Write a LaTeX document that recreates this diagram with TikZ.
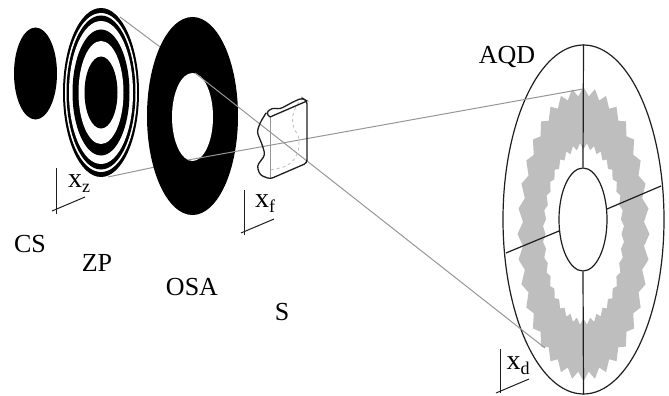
\documentclass[tikz,border=0pt]{standalone}
\usepackage{fontspec}
\setmainfont{Liberation Serif}
\usetikzlibrary{positioning,shapes.geometric}
\definecolor{lgray}{RGB}{190,190,190}
\definecolor{mgray}{RGB}{150,150,150}
\definecolor{dgray}{RGB}{30,30,30}
\newcommand{\axsub}[1]{\raisebox{-5pt}{\fontsize{18}{18}\selectfont #1}}
\tikzset{
  disc/.style={ellipse, draw=none, fill=black, inner sep=0pt},
  gap/.style={ellipse, draw=none, fill=white, inner sep=0pt},
  det/.style={ellipse, draw=dgray, line width=1.2pt, inner sep=0pt},
  ray/.style={mgray, line width=1pt},
  axis/.style={dgray, line width=1pt},
  sect/.style={dgray, line width=1.2pt},
  edge/.style={dgray, line width=1.3pt},
  lbl/.style={font=\fontsize{26}{26}\selectfont, inner sep=0pt},
  axl/.style={font=\fontsize{28}{28}\selectfont, inner sep=0pt}
}
\begin{document}
\begin{tikzpicture}[x=1pt,y=-1pt]
  \useasboundingbox (0,0) rectangle (669,396);
  % condenser stop
  \node[disc, minimum width=43pt, minimum height=92pt] (cs) at (35.5,73.5) {};
  % zone plate
  \node[disc, minimum width=76pt, minimum height=169pt] (zp) at (101,92.5) {};
  \node[gap, minimum width=72pt, minimum height=159pt] (zpa) at (101,92.5) {};
  \node[disc, minimum width=69pt, minimum height=154pt] (zpb) at (101,92.5) {};
  \node[gap, minimum width=64pt, minimum height=143pt] (zpc) at (101,92.5) {};
  \node[disc, minimum width=57pt, minimum height=126pt] (zpd) at (101,92.5) {};
  \node[gap, minimum width=45pt, minimum height=103pt] (zpe) at (101,92.5) {};
  \node[disc, minimum width=33pt, minimum height=72pt] (zpf) at (101,92.5) {};
  % rays up to the aperture
  \coordinate (zt) at (120,17);
  \coordinate (zb) at (108,177);
  \coordinate (ot) at (195,73);
  \coordinate (ob) at (188,160);
  \coordinate (dt) at (583,89);
  \coordinate (db) at (545,348);
  \draw[ray] (zt)--(ot);
  \draw[ray] (zb)--(ob);
  % aperture
  \node[disc, minimum width=91pt, minimum height=198pt] (osa) at (192.5,116) {};
  \node[gap, minimum width=41pt, minimum height=88pt] (hole) at (192.5,117) {};
  % detector ring
  \node[det, fill=white, minimum width=161pt, minimum height=349pt] (aqd) at (583.5,219.5) {};
  \fill[lgray, even odd rule]
    plot[samples=73, domain=0:360] ({583.5+66*(1-0.08*mod(round(\x/5),2))*sin(\x)},{234+147*(1-0.06*mod(round(\x/5),2))*cos(\x)})
    -- cycle
    plot[samples=73, domain=0:360] ({583.5+38*(1+0.07*mod(round(\x/5),2))*sin(\x)},{234+85*(1+0.07*mod(round(\x/5),2))*cos(\x)})
    -- cycle;
  \node[det, fill=white, minimum width=48pt, minimum height=103pt] (inner) at (583,219.5) {};
  \draw[sect] (aqd.north)--(inner.north);
  \draw[sect] (inner.south)--(aqd.south);
  \coordinate (sa) at (607,209);
  \coordinate (sb) at (661,186);
  \coordinate (sc) at (559,231);
  \coordinate (sd) at (506,253);
  \draw[sect] (sa)--(sb);
  \draw[sect] (sc)--(sd);
  % rays through the sample
  \draw[ray] (ot)--(db);
  \draw[ray] (ob)--(dt);
  % sample
  \draw[mgray, line width=1pt] (270,117)--(270,179);
  \draw[lgray, dashed, line width=0.8pt] (303,98) .. controls (290,110) and (290,125) .. (298,135)
    .. controls (302,150) and (295,165) .. (280,168) -- (270,170);
  \draw[edge, rounded corners=3pt] (270,117) -- (266,113) -- (272,108) -- (280,109) -- (293,102) -- (302,98) -- (307,101)
    -- (307,163) -- (270,179) -- (260,175) -- (257,166) -- (265,155) -- (263,147) -- (257,132) -- (260,123) -- (266,113);
  \draw[edge] (270,117)--(307,101);
  % axes
  \draw[axis] (56,168)--(56,214);
  \draw[axis] (52,211)--(85,197);
  \node[axl] (xz) at (79,184) {x\axsub{z}};
  \draw[axis] (244,190)--(244,235);
  \draw[axis] (241,233)--(274,219);
  \node[axl] (xf) at (265,204) {x\axsub{f}};
  \draw[axis] (500,349)--(500,393);
  \draw[axis] (496,393)--(529,379);
  \node[axl] (xd) at (518,366) {x\axsub{d}};
  % labels
  \node[lbl] (lcs) at (30,244) {CS};
  \node[lbl] (lzp) at (97,263) {ZP};
  \node[lbl] (losa) at (192,287) {OSA};
  \node[lbl] (ls) at (282,312) {S};
  \node[lbl] (laqd) at (507,57) {AQD};
\end{tikzpicture}
\end{document}
